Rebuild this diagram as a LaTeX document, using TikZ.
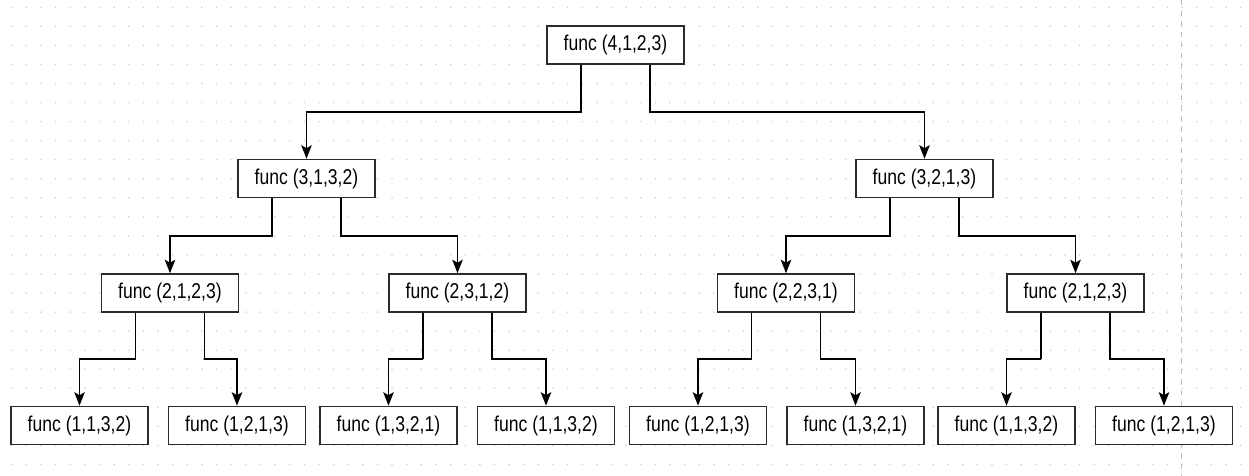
\documentclass[tikz,border=0pt]{standalone}
\usepackage{fontspec}
\setmainfont{Liberation Sans}
\usepackage{graphicx}
\usepackage{tikz}
\usetikzlibrary{arrows.meta,calc}

\definecolor{griddot}{HTML}{D2D2D2}
\definecolor{boxline}{HTML}{2B2B2B}
\newcommand{\fcall}[1]{\scalebox{1}[1.22]{func (#1)}}

\begin{document}
\begin{tikzpicture}[
    x=0.02cm, y=-0.02cm,
    every node/.style={font=\fontsize{10}{11}\selectfont},
    call/.style={rectangle, draw=boxline, line width=0.9pt, fill=white, minimum width=2.74cm, minimum height=0.76cm, inner sep=0pt, text centered},
    arrow/.style={-{Stealth[length=2.7mm, width=2.1mm, inset=0.6mm]}, line width=0.9pt, black}
]
\useasboundingbox (0,0) rectangle (1249,476);

% background grid
\foreach \i in {0,...,84} {
  \foreach \j in {0,...,24} {
    \fill[griddot] (11.7+14.63*\i, 7.3+19.05*\j) circle[radius=0.9];
  }
}
\draw[griddot!80!gray, dashed, line width=0.5pt] (1181.7,0) -- (1181.7,476);

% level 0
\node[call] (root) at (615.5,45) {\fcall{4,1,2,3}};

% level 1
\node[call] (a) at (306.5,178.5) {\fcall{3,1,3,2}};
\node[call] (b) at (924.5,178.5) {\fcall{3,2,1,3}};

% level 2
\node[call] (aa) at (170,293) {\fcall{2,1,2,3}};
\node[call] (ab) at (457.5,293) {\fcall{2,3,1,2}};
\node[call] (ba) at (786,293) {\fcall{2,2,3,1}};
\node[call] (bb) at (1075.5,293) {\fcall{2,1,2,3}};

% level 3
\node[call] (aaa) at (79.5,425.5) {\fcall{1,1,3,2}};
\node[call] (aab) at (237,425.5) {\fcall{1,2,1,3}};
\node[call] (aba) at (388.5,425.5) {\fcall{1,3,2,1}};
\node[call] (abb) at (546,425.5) {\fcall{1,1,3,2}};
\node[call] (baa) at (698,425.5) {\fcall{1,2,1,3}};
\node[call] (bab) at (855.5,425.5) {\fcall{1,3,2,1}};
\node[call] (bba) at (1006.5,425.5) {\fcall{1,1,3,2}};
\node[call] (bbb) at (1164,425.5) {\fcall{1,2,1,3}};

% Arrows
\draw[arrow] ($(root.south west)!0.25!(root.south east)$) |- ($(root.south)!0.5!(a.north)$) -| (a.north);
\draw[arrow] ($(root.south west)!0.75!(root.south east)$) |- ($(root.south)!0.5!(b.north)$) -| (b.north);
\draw[arrow] ($(a.south west)!0.25!(a.south east)$) |- ($(a.south)!0.5!(aa.north)$) -| (aa.north);
\draw[arrow] ($(a.south west)!0.75!(a.south east)$) |- ($(a.south)!0.5!(ab.north)$) -| (ab.north);
\draw[arrow] ($(b.south west)!0.25!(b.south east)$) |- ($(b.south)!0.5!(ba.north)$) -| (ba.north);
\draw[arrow] ($(b.south west)!0.75!(b.south east)$) |- ($(b.south)!0.5!(bb.north)$) -| (bb.north);
\draw[arrow] ($(aa.south west)!0.25!(aa.south east)$) |- ($(aa.south)!0.5!(aaa.north)$) -| (aaa.north);
\draw[arrow] ($(aa.south west)!0.75!(aa.south east)$) |- ($(aa.south)!0.5!(aab.north)$) -| (aab.north);
\draw[arrow] ($(ab.south west)!0.25!(ab.south east)$) |- ($(ab.south)!0.5!(aba.north)$) -| (aba.north);
\draw[arrow] ($(ab.south west)!0.75!(ab.south east)$) |- ($(ab.south)!0.5!(abb.north)$) -| (abb.north);
\draw[arrow] ($(ba.south west)!0.25!(ba.south east)$) |- ($(ba.south)!0.5!(baa.north)$) -| (baa.north);
\draw[arrow] ($(ba.south west)!0.75!(ba.south east)$) |- ($(ba.south)!0.5!(bab.north)$) -| (bab.north);
\draw[arrow] ($(bb.south west)!0.25!(bb.south east)$) |- ($(bb.south)!0.5!(bba.north)$) -| (bba.north);
\draw[arrow] ($(bb.south west)!0.75!(bb.south east)$) |- ($(bb.south)!0.5!(bbb.north)$) -| (bbb.north);

\end{tikzpicture}
\end{document}
